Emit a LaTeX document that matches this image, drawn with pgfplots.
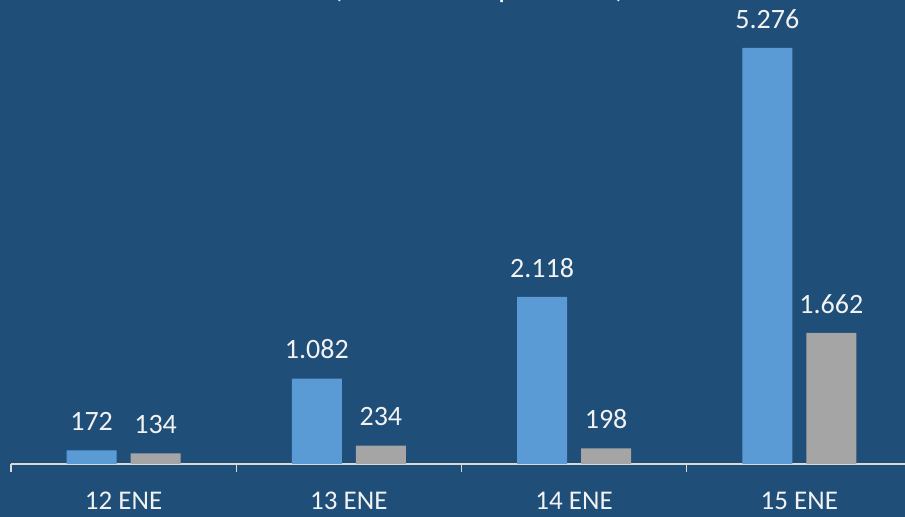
\documentclass[border=0pt]{standalone}
\usepackage{pgfplots}
\pgfplotsset{compat=1.18}
\usepackage{fontspec}
\setmainfont{Carlito}
\definecolor{bgblue}{RGB}{31,78,121}
\definecolor{barblue}{RGB}{91,155,213}
\definecolor{bargray}{RGB}{165,165,165}
\definecolor{axisgray}{RGB}{217,217,217}
\definecolor{txt}{RGB}{242,242,242}
\begin{document}
\begin{tikzpicture}
  \useasboundingbox (0,0) rectangle (905bp,517bp);
  \fill[bgblue] (0,0) rectangle (905bp,517bp);
  \begin{axis}
    [ at={(11bp,53bp)}
    , anchor=south west
    , scale only axis
    , width=901bp
    , height=416bp
    , ybar=14bp
    , bar width=50bp
    , xmin=-0.5, xmax=3.5
    , ymin=0, ymax=5276
    , clip=false
    , axis x line*=bottom
    , axis y line=none
    , ytick=\empty
    , xtick={0,1,2,3}
    , xticklabels={12 ENE, 13 ENE, 14 ENE, 15 ENE}
    , major tick length=0pt
    , minor xtick={-0.5,0.5,1.5,2.5,3.5}
    , minor tick length=8bp
    , tick align=outside
    , every tick/.style={draw=axisgray, line width=1.2bp}
    , x axis line style={draw=axisgray, line width=1.5bp}
    , xticklabel style={anchor=base, yshift=-45bp, text=txt,
        font=\fontsize{27bp}{32bp}\selectfont}
    , nodes near coords
    , /pgf/number format/assume math mode=true
    , /pgf/number format/.cd, fixed, precision=0, 1000 sep={.}, /pgfplots/.cd
    , every node near coord/.append style={anchor=south, inner sep=0pt,
        yshift=19.5bp, text=txt, font=\fontsize{28bp}{33bp}\selectfont}
    ]
    \addplot[fill=barblue, draw=none] coordinates {(0,172) (1,1082) (2,2118) (3,5276)};
    \addplot[fill=bargray, draw=none] coordinates {(0,134) (1,234) (2,198) (3,1662)};
  \end{axis}
  \node[anchor=base, inner sep=0pt, text=txt,
    font=\fontsize{32bp}{38bp}\selectfont] at (479bp,519bp) {(en miles de personas)};
\end{tikzpicture}
\end{document}
